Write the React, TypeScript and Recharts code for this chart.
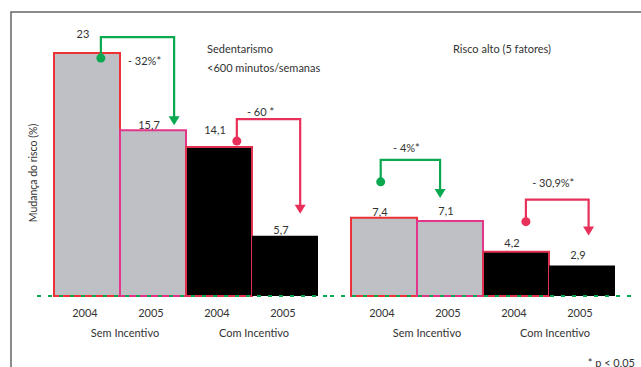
import React from 'react';
import { BarChart, Bar, XAxis, YAxis, Cell, LabelList } from 'recharts';

// Values
const years = ['2004', '2005', '2004', '2005'];
const groups = ['Sem Incentivo', 'Sem Incentivo', 'Com Incentivo', 'Com Incentivo'];
const sedentarismo = [23, 15.7, 14.1, 5.7];
const riscoAlto = [7.4, 7.1, 4.2, 2.9];
const sedentarismoChange = ['- 32%*', '- 60 *'];
const riscoAltoChange = ['- 4%*', '- 30,9%*'];

const GRAY = '#bec0c6';
const GREEN = '#0aa84f';
const RED = '#e8305a';
const TEXT = '#333';
const FONT = 'Lato, "Noto Sans", sans-serif';

const fills = [GRAY, GRAY, '#000', '#000'];
const strokes = ['#ec3237', '#e5358a', '#e2304f', 'none'];

// arrow placement (relative to bar geometry)
const sedArrows = [
  { from: 0, color: GREEN, dotAt: 0.71, dotDy: 5, rise: 16, arrowAt: 0.82, gap: 5, textDx: 7, textDy: 23 },
  { from: 2, color: RED, dotAt: 0.77, dotDy: -6, rise: 28, arrowAt: 0.73, gap: 22, textDx: -8, textDy: -8 },
];
const riscoArrows = [
  { from: 0, color: GREEN, dotAt: 0.45, dotDy: -36, rise: 58, arrowAt: 0.35, gap: 23, textDx: -4, textDy: -12 },
  { from: 2, color: RED, dotAt: 0.65, dotDy: -30, rise: 52, arrowAt: 0.6, gap: 30, textDx: -4, textDy: -17 },
];
const sedLabelDy = [-20, -6, -18, -6];
const riscoLabelDy = [-6, -11, -9, -11];

const fmt = (v: number) => String(v).replace('.', ',');

type PanelProps = {
  values: number[];
  changes: string[];
  arrows: typeof sedArrows;
  labelDy: number[];
  left: number;
  width: number;
  margin: { top: number; right: number; bottom: number; left: number };
  padding: { left: number; right: number };
  groupDx: number[];
};

const Panel = ({ values, changes, arrows, labelDy, left, width, margin, padding, groupDx }: PanelProps) => {
  const data = values.map((v, i) => ({ year: years[i], group: groups[i], value: v }));

  const idx = (props: any) => (props.index ?? values.indexOf(props.value)) as number;

  const renderValue = (props: any) => {
    const vb = props.viewBox ?? props;
    const i = idx(props);
    return (
      <text
        x={vb.x + vb.width / 2 - 4}
        y={vb.y + labelDy[i]}
        textAnchor="middle"
        dominantBaseline="central"
        fontSize={11}
        fill={TEXT}
      >
        {fmt(values[i])}
      </text>
    );
  };

  const renderArrow = (props: any) => {
    const vb = props.viewBox ?? props;
    const i = idx(props);
    const ai = arrows.findIndex((a) => a.from === i);
    if (ai < 0) return null;
    const a = arrows[ai];
    const base = vb.y + vb.height;
    const k = vb.height / values[i];
    const toTop = base - values[i + 1] * k;
    const x1 = vb.x + vb.width * a.dotAt;
    const x2 = vb.x + vb.width * (1 + a.arrowAt);
    const yd = vb.y + a.dotDy;
    const yl = vb.y - a.rise;
    const tip = toTop - a.gap;
    return (
      <g>
        <polyline
          points={`${x1},${yd} ${x1},${yl} ${x2},${yl} ${x2},${tip - 6}`}
          fill="none"
          stroke={a.color}
          strokeWidth={2.2}
        />
        <circle cx={x1} cy={yd} r={4.5} fill={a.color} />
        <polygon points={`${x2 - 5.5},${tip - 9} ${x2 + 5.5},${tip - 9} ${x2},${tip}`} fill={a.color} />
        <text
          x={(x1 + x2) / 2 + a.textDx}
          y={yl + a.textDy}
          textAnchor="middle"
          dominantBaseline="central"
          fontSize={11}
          fill={TEXT}
        >
          {changes[ai]}
        </text>
      </g>
    );
  };

  const GroupTick = (props: any) => {
    const { x, y, payload } = props;
    return (
      <text x={x + groupDx[payload.index] } y={y} dy="0.71em" textAnchor="middle" fontSize={11} fill={TEXT}>
        {payload.value}
      </text>
    );
  };

  return (
    <div style={{ position: 'absolute', left, top: 0 }}>
      <BarChart width={width} height={367} data={data} margin={margin} barCategoryGap={0} barGap={0}>
        <YAxis hide domain={[0, 25]} />
        <XAxis
          dataKey="year"
          height={22}
          padding={padding}
          tickSize={0}
          tickMargin={13}
          tick={{ fontSize: 11, fill: TEXT, dx: -2 }}
          axisLine={{ stroke: GREEN, strokeWidth: 2, strokeDasharray: '4 7' }}
          tickLine={false}
        />
        <XAxis
          xAxisId="grp"
          dataKey="group"
          allowDuplicatedCategory={false}
          height={22}
          padding={padding}
          tickSize={0}
          tickMargin={11}
          tick={<GroupTick />}
          axisLine={false}
          tickLine={false}
        />
        <Bar dataKey="value" isAnimationActive={false} strokeWidth={2}>
          {data.map((_, i) => (
            <Cell key={i} fill={fills[i]} stroke={strokes[i]} />
          ))}
          <LabelList dataKey="value" content={renderValue} />
          <LabelList dataKey="value" content={renderArrow} />
        </Bar>
      </BarChart>
    </div>
  );
};

export default function App() {
  return (
    <div
      style={{
        position: 'absolute',
        left: 0,
        top: 0,
        width: 641,
        height: 367,
        background: '#fff',
        fontFamily: FONT,
        overflow: 'hidden',
      }}
    >
      <Panel
        values={sedentarismo}
        changes={sedentarismoChange}
        arrows={sedArrows}
        labelDy={sedLabelDy}
        left={0}
        width={330}
        margin={{ top: 32, right: 0, bottom: 27, left: 37 }}
        padding={{ left: 17, right: 12 }}
        groupDx={[5, 2]}
      />
      <Panel
        values={riscoAlto}
        changes={riscoAltoChange}
        arrows={riscoArrows}
        labelDy={riscoLabelDy}
        left={330}
        width={311}
        margin={{ top: 32, right: 9, bottom: 27, left: 0 }}
        padding={{ left: 21, right: 17 }}
        groupDx={[10, 6]}
      />
      <svg
        width={641}
        height={367}
        style={{ position: 'absolute', left: 0, top: 0, pointerEvents: 'none' }}
      >
        <polyline points="11,367 11,12 641,12" fill="none" stroke="#666" strokeWidth={1.5} />
        <text x={33} y={173} transform="rotate(-90 33 173)" textAnchor="middle" dominantBaseline="central" fontSize={10.5} fill={TEXT}>
          Mudança do risco (%)
        </text>
        <text x={207} y={48} dominantBaseline="central" fontSize={11} fill={TEXT}>Sedentarismo</text>
        <text x={207} y={67} dominantBaseline="central" fontSize={11} fill={TEXT}>{'<600 minutos/semanas'}</text>
        <text x={502} y={48} textAnchor="middle" dominantBaseline="central" fontSize={11} fill={TEXT}>Risco alto (5 fatores)</text>
        <text x={635} y={362} textAnchor="end" dominantBaseline="central" fontSize={11} fill={TEXT}>* p &lt; 0,05</text>
      </svg>
    </div>
  );
}
